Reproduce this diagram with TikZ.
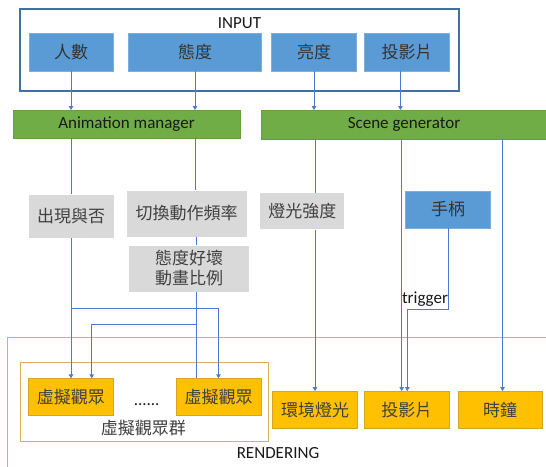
\documentclass[tikz,border=0pt]{standalone}
\usepackage{fontspec}
\setmainfont{Carlito}
\newfontfamily\cjk{Noto Sans CJK TC}
\usetikzlibrary{arrows.meta}
\definecolor{inbl}{HTML}{5B9BD5}
\definecolor{inbd}{HTML}{7BADDD}
\definecolor{inframe}{HTML}{41719C}
\definecolor{grn}{HTML}{70AD47}
\definecolor{grnd}{HTML}{65A03F}
\definecolor{gry}{HTML}{D9D9D9}
\definecolor{gold}{HTML}{FFC000}
\definecolor{goldd}{HTML}{D9A520}
\definecolor{rendc}{HTML}{D6B35A}
\definecolor{lnk}{HTML}{4A7BD0}
\definecolor{txt}{HTML}{404040}
\newcommand\mycjkf{\cjk\fontsize{17}{20}\selectfont}
\newcommand\mylatf{\fontsize{17}{20}\selectfont}
\tikzset{
  basebox/.style={inner sep=0pt, outer sep=0pt, align=center, text=txt, font=\mycjkf},
  inbox/.style={basebox, fill=inbl, draw=inbd, line width=0.6pt, text=black!80},
  grbox/.style={basebox, fill=grn, draw=grnd, line width=0.6pt, font=\mylatf, text=black!90},
  gybox/.style={basebox, fill=gry, draw=white, line width=0.8pt},
  gdbox/.style={basebox, fill=gold, draw=goldd, line width=0.8pt},
  link/.style={draw=lnk, line width=0.8pt},
  arr/.style={link, -{Triangle[width=4.5pt,length=4pt]}},
  lab/.style={inner sep=0pt, font=\mylatf, text=black!90},
}
\begin{document}
\begin{tikzpicture}[x=1pt,y=-1pt]
\useasboundingbox (0,0) rectangle (546,466);
\clip (0,0) rectangle (546,466);
\fill[white] (0,0) rectangle (546,466);

% INPUT frame
\node[draw=inframe, line width=1.6pt, minimum width=439, minimum height=81.5, inner sep=0pt] (inp) at (239.5,50) {};
\node[lab] (inpl) at (239.5,23) {INPUT};
\node[inbox, minimum width=84.3, minimum height=38] (ppl) at (71,52) {人數};
\node[inbox, minimum width=133, minimum height=38] (att) at (195,52) {態度};
\node[inbox, minimum width=84.6, minimum height=38] (bri) at (314,52) {亮度};
\node[inbox, minimum width=84.6, minimum height=38] (proj) at (407,52) {投影片};

% managers
\node[grbox, minimum width=227, minimum height=28] (am) at (126.5,124) {Animation manager};
\node[grbox, minimum width=286, minimum height=29] (sg) at (404,124.5) {Scene generator};

% middle
\node[gybox, minimum width=86, minimum height=44] (appear) at (71,216) {出現與否};
\node[gybox, minimum width=120.5, minimum height=47] (switch) at (186.7,213.5) {切換動作頻率};
\node[gybox, minimum width=121.7, minimum height=47] (ratio) at (189,268.5) {態度好壞\\動畫比例};
\node[gybox, minimum width=85, minimum height=37] (light) at (302.3,211) {燈光強度};
\node[inbox, minimum width=85, minimum height=37] (handle) at (448,209.5) {手柄};

% rendering
\draw[draw=rendc, line width=0.7pt] (7.3,337.3) rectangle (600,500);
\node[lab] (rendl) at (278,452.7) {RENDERING};
\node[draw=rendc, line width=0.7pt, minimum width=248.3, minimum height=79, inner sep=0pt] (grp) at (144.2,401.8) {};
\node[basebox] (grpl) at (143.3,428.3) {虛擬觀眾群};
\node[gdbox, minimum width=85, minimum height=36.7] (va1) at (70.8,396.7) {虛擬觀眾};
\node[gdbox, minimum width=85, minimum height=36.7] (va2) at (218.5,396.7) {虛擬觀眾};
\node[lab, anchor=base] (dots) at (146.7,405) {......};
\node[gdbox, minimum width=85.3, minimum height=37.3] (env) at (315,409.7) {環境燈光};
\node[gdbox, minimum width=84.6, minimum height=37.3] (proj2) at (406.9,409.7) {投影片};
\node[gdbox, minimum width=84, minimum height=37.3] (clock) at (500.2,409.7) {時鐘};

% column coordinates
\coordinate (cS) at (195,0);
\coordinate (cR) at (196.7,0);
\coordinate (cL) at (315,0);
\coordinate (cP) at (401.7,0);
\coordinate (cPi) at (400.4,0);
\coordinate (cC) at (502.5,0);
\coordinate (j1) at (71.4,308.3);
\coordinate (j3) at (196.7,324.3);
\coordinate (j4) at (91.7,324.3);
\coordinate (t1) at (448.5,309.3);
\coordinate (t2) at (407.3,309.3);

% input arrows
\draw[arr] (ppl.south) -- (ppl.south |- am.north);
\draw[arr] (att.south) -- (att.south |- am.north);
\draw[arr] (bri.south) -- (bri.south |- sg.north);
\draw[arr] (proj.south -| cPi) -- (sg.north -| cPi);

% animation manager branch
\draw[link] (am.south -| appear.north) -- (appear.north);
\draw[link] (am.south -| cS) -- (switch.north -| cS);
\draw[link] (switch.south -| cR) -- (ratio.north -| cR);
\draw[arr] (appear.south) -- (appear.south |- va1.north);
\draw[arr] (j1) -| (va2.north);
\draw[link] (ratio.south -| cR) -- (va2.north -| cR);
\draw[arr] (j3) -- (j4) -- (j4 |- va1.north);

% scene generator branch
\draw[link] (sg.south -| cL) -- (light.north -| cL);
\draw[arr] (light.south -| cL) -- (env.north -| cL);
\draw[arr] (sg.south -| cP) -- (proj2.north -| cP);
\draw[arr] (sg.south -| cC) -- (clock.north -| cC);
\draw[arr] (handle.south -| t1) -- (t1) -- (t2) -- (t2 |- proj2.north);
\node[lab] (trig) at (425,299.3) {trigger};
\end{tikzpicture}
\end{document}
